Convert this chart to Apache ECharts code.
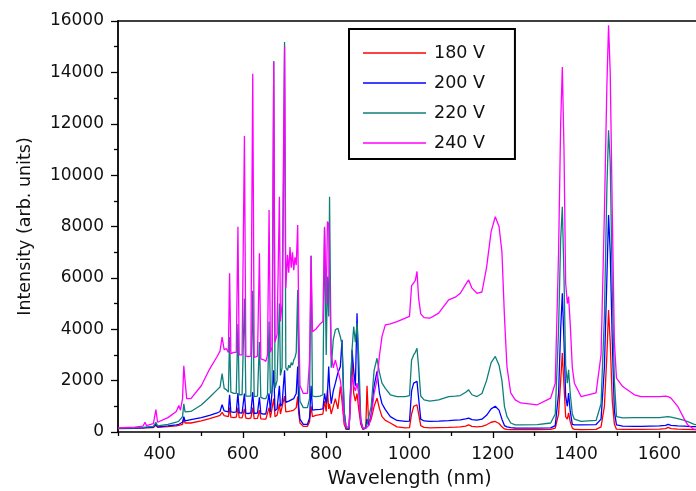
<!DOCTYPE html>
<html>
<head>
<meta charset="utf-8">
<script src="https://cdn.jsdelivr.net/npm/echarts@6/dist/echarts.min.js"></script>
<style>
html,body{margin:0;padding:0;background:#fff;}
#chart{width:696px;height:491px;}
</style>
</head>
<body>
<div id="chart"></div>
<script>
// Wavelength samples (nm)
var wavelengths = [300,340,360,365,368,385,391,395,420,440,446,450,455,458,461,465,475,500,520,538,545,550,555,560,
565,568,571,578,584,588,591,598,603.6,607,613,619,623.6,627,635,639.6,643,650,655,659,662.8,666,670,674,677,682,687.6,690,694,700,
703,707,710,713,716,719,722,725,728,731.5,734,737,745,755,760,763.7,767,775,785,792,796,800,803,806,808,812,817,822,828,834,838,843,848,855,
862,866,870,874,878,883,888,895,898,902,908,915,922,928,934,942,954,970,990,1000,1005,1010,1014,1018,1022,1027,1035,1049,1070,1094,1110,1122,1135,1142,1150,1162,1174,1185,1196,1206,1215,1222,1228,1234,1243,1254,1267,1307,1339,1350,1358,1363,1367,1371,1375,1379,1382,1386,1391,1396,1412,1448,1460,1468,1474,1478,1482,1487,1492,1497,1512,1540,1556,1600,1615,1621,1628,1644,1660,1668,1684,1700];

var v180 = [130,140,150,160,150,170,260,180,210,240,260,260,300,500,350,330,350,430,520,610,650,760,640,620,
600,950,580,560,580,950,560,550,900,540,520,540,950,520,530,850,510,500,500,550,950,560,600,1300,600,650,1100,700,750,1400,
780,750,800,780,820,800,850,900,950,1380,700,350,220,220,400,1000,600,650,680,700,1200,800,1640,900,1100,700,1000,1300,900,1770,1200,300,100,100,
2800,1500,1200,1500,900,300,100,150,1800,300,500,1000,1320,900,600,450,350,200,160,170,700,1000,950,1060,700,250,180,160,170,180,190,200,230,280,220,200,220,280,380,410,330,200,120,100,90,90,90,90,100,150,700,2000,3070,1800,600,500,740,400,150,100,90,100,200,1000,3000,4750,3500,1200,300,110,100,100,100,110,130,180,130,110,100,100,90,90];

var v200 = [140,150,160,170,160,190,300,200,240,280,300,300,380,600,430,450,480,560,650,740,800,1060,820,800,
780,1450,780,760,780,1520,750,740,1500,730,720,740,1550,720,740,1350,720,700,700,760,1500,780,820,2400,830,900,1800,1000,1100,2400,
1150,1100,1200,1150,1250,1200,1300,1400,1500,2550,1000,500,300,300,550,1800,850,870,880,900,1500,1100,1520,2550,1800,1100,1600,1900,2300,2550,3590,800,120,120,
3200,2400,1800,4620,2000,400,120,150,500,250,700,1800,2360,1500,1100,870,600,450,410,420,1600,1900,1900,1970,1300,500,430,410,420,440,460,470,510,540,480,460,500,650,900,1000,850,500,250,200,170,155,150,150,160,250,1500,4000,5400,3500,1400,1000,1520,800,300,280,280,290,500,2500,6000,8450,7000,3500,800,280,230,220,220,240,260,300,260,240,230,220,210,200];

var v220 = [150,160,170,190,180,220,380,240,300,380,420,420,600,1100,780,760,800,1050,1350,1640,1750,2270,1700,1650,
1550,3700,1550,1500,1500,4200,1450,1450,5200,1400,1400,1400,5500,1380,1400,3500,1350,1300,1300,1450,4300,1500,1600,14440,1700,2000,5000,2200,2500,15180,
2500,2400,2600,2500,2700,2600,2800,2900,3100,5530,2200,1200,950,950,1300,6860,1400,1380,1400,1450,7950,3000,6050,4500,9160,2500,3600,3980,4040,3700,3400,800,150,150,
3200,4100,3500,4240,3000,500,150,150,300,250,1000,2400,2870,2300,1900,1700,1450,1380,1380,1420,2800,3000,3100,3260,2500,1400,1250,1200,1250,1380,1400,1420,1550,1640,1450,1380,1500,2000,2700,2940,2600,2000,1000,610,350,280,280,290,350,700,4000,7500,8770,6000,2600,1900,2420,1500,700,500,410,450,1100,4500,9500,11750,10500,5500,2000,600,550,560,560,560,590,600,580,520,450,400,300,250];

var v240 = [160,190,230,380,250,330,870,380,560,800,1030,850,1300,2580,2000,1300,1300,1800,2450,2940,3150,3690,3200,3250,
3100,6180,3050,3100,3100,7990,3000,3000,11520,2950,2940,2950,13950,2900,2950,6960,2850,2810,2750,3000,8640,3100,3300,14400,3500,3800,9160,4300,5000,15000,
5600,6900,6200,7200,6400,7000,6300,6800,6500,8060,4500,1800,1500,1500,2800,6860,3900,4000,4200,4300,7990,5000,8190,8100,6000,3000,2500,2800,2400,2000,1500,400,200,200,
2200,1800,1600,1900,1500,400,150,150,200,250,600,1500,2030,3000,3720,4170,4210,4300,4430,4500,5700,5800,5900,6250,5200,4600,4450,4430,4630,5140,5250,5400,5750,5920,5600,5400,5450,6400,7800,8380,8000,7000,4500,2550,1520,1250,1130,1060,1320,1900,7000,12000,14210,11000,5800,5000,5270,4200,2500,1900,1380,1520,3000,8500,13500,15830,14000,8500,3500,2100,1770,1450,1380,1380,1400,1380,1320,1000,500,280,100,90];

var seriesNames = ['180 V','200 V','220 V','240 V'];
var seriesColors = ['#ff0000','#0000ff','#0e7f7a','#ff00ff'];
var xMajorTicks = [400,600,800,1000,1200,1400,1600];
var xMinorTicks = [300,500,700,900,1100,1300,1500,1700];

function pairs(vals){
  var out = [];
  for (var i = 0; i < wavelengths.length; i++) out.push([wavelengths[i], vals[i]]);
  return out;
}
function plain(v){ return String(v); }
var allVals = [v180, v200, v220, v240];
var FONT = 'DejaVu Sans';

var series = allVals.map(function(vals, i){
  return {
    name: seriesNames[i], type: 'line', xAxisIndex: 0, yAxisIndex: 0,
    data: pairs(vals), symbol: 'none', showSymbol: false,
    lineStyle: {color: seriesColors[i], width: 1.3},
    itemStyle: {color: seriesColors[i]},
    animation: false, z: 2 + i
  };
});

var chart = echarts.init(document.getElementById('chart'), null, {renderer: 'canvas'});
chart.setOption({
  backgroundColor: '#fff',
  animation: false,
  grid: {left: 118, top: 21, right: -5, bottom: 59, containLabel: false, outerBoundsMode: 'none'},
  legend: {
    orient: 'vertical', left: 349, top: 29,
    padding: [14, 30, 6, 14],
    borderColor: '#000', borderWidth: 2,
    icon: 'rect',
    itemWidth: 63, itemHeight: 1.6, itemGap: 10,
    textStyle: {fontFamily: FONT, fontSize: 17.5, lineHeight: 20, color: '#111', padding: [0,0,0,3]},
    data: seriesNames
  },
  xAxis: [
    {
      type: 'value', min: 300, max: 1700, position: 'bottom',
      name: 'Wavelength (nm)', nameLocation: 'middle', nameGap: 38,
      nameTextStyle: {fontFamily: FONT, fontSize: 19, color: '#111'},
      axisLine: {show: true, onZero: false, lineStyle: {color: '#000', width: 1.5}},
      axisTick: {show: true, inside: false, length: 6, customValues: xMajorTicks, lineStyle: {color: '#000', width: 1.3}},
      axisLabel: {show: true, margin: 14, customValues: xMajorTicks, formatter: plain, fontFamily: FONT, fontSize: 17, color: '#111'},
      splitLine: {show: false}
    },
    {
      type: 'value', min: 300, max: 1700, position: 'bottom',
      axisLine: {show: false},
      axisTick: {show: true, inside: false, length: 4, customValues: xMinorTicks, lineStyle: {color: '#000', width: 1.3}},
      axisLabel: {show: false},
      splitLine: {show: false}
    },
    {
      type: 'value', min: 300, max: 1700, position: 'top',
      axisLine: {show: true, onZero: false, lineStyle: {color: '#000', width: 1.5}},
      axisTick: {show: false}, axisLabel: {show: false}, splitLine: {show: false}
    }
  ],
  yAxis: {
    type: 'value', min: 0, max: 16000, interval: 2000,
    name: 'Intensity (arb. units)', nameLocation: 'middle', nameGap: 84, nameRotate: 90,
    nameTextStyle: {fontFamily: FONT, fontSize: 17.5, color: '#111'},
    axisLine: {show: true, lineStyle: {color: '#000', width: 1.8}},
    axisTick: {show: true, inside: false, length: 7, lineStyle: {color: '#000', width: 1.3}},
    minorTick: {show: true, splitNumber: 2, length: 4, lineStyle: {color: '#000', width: 1.3}},
    axisLabel: {margin: 14, formatter: plain, fontFamily: FONT, fontSize: 17, color: '#111'},
    splitLine: {show: false}
  },
  series: series
});
</script>
</body>
</html>
